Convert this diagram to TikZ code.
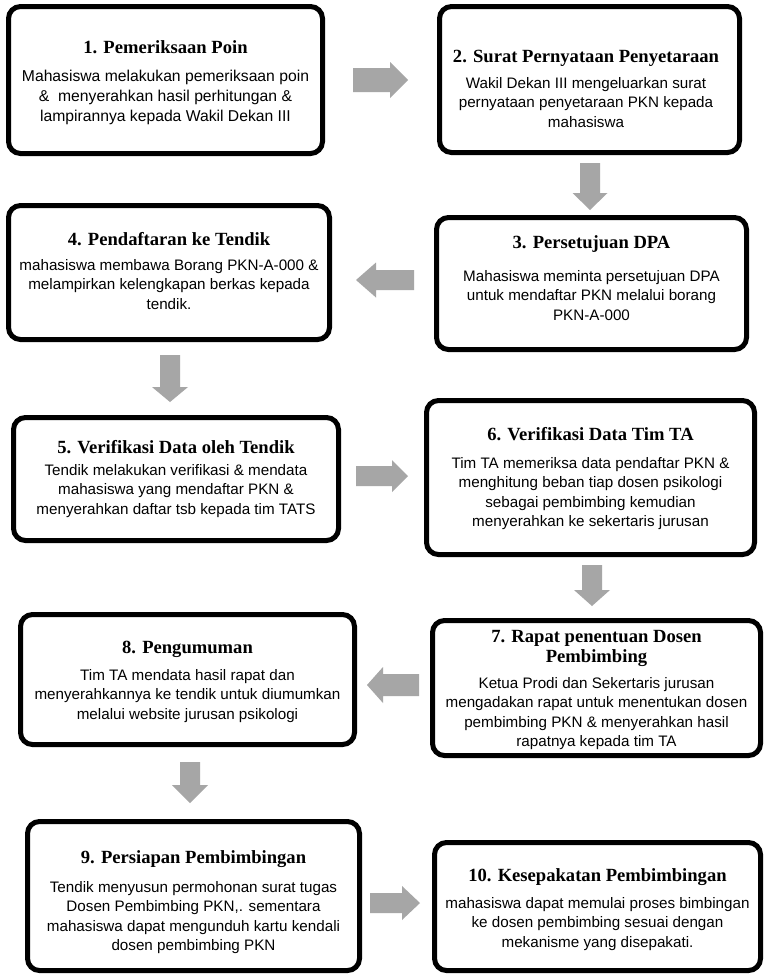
\documentclass[tikz,border=0pt]{standalone}
\usepackage{fontspec}
\setmainfont{Liberation Sans}
\newfontfamily\ttlfont{Liberation Serif}
\usetikzlibrary{fit}
\definecolor{arrowgray}{RGB}{166,166,166}
\newcommand{\blkH}[6]{\fill[garrow] (#1,#4-#5) -- (#2,#4-#5) -- (#2,#4-#6) -- (#3,#4) -- (#2,#4+#6) -- (#2,#4+#5) -- (#1,#4+#5) -- cycle;}
\newcommand{\blkV}[6]{\fill[garrow] (#1-#5,#2) -- (#1-#5,#3) -- (#1-#6,#3) -- (#1,#4) -- (#1+#6,#3) -- (#1+#5,#3) -- (#1+#5,#2) -- cycle;}
\tikzset{
  stepbox/.style={draw=black, line width=5pt, rounded corners=12pt, inner sep=0pt, fill=white},
  ttl/.style={font=\ttlfont\bfseries\fontsize{18.6}{20}\selectfont, anchor=base, inner sep=0pt, align=center},
  ttlm/.style={font=\ttlfont\bfseries\fontsize{18.6}{20}\selectfont, anchor=north, inner sep=0pt, align=center},
  bdy/.style={font=\fontsize{15.2}{19.5}\selectfont, anchor=north, inner sep=0pt, align=center},
  bdyl/.style={bdy, font=\fontsize{15.7}{20}\selectfont},
  garrow/.style={fill=arrowgray, draw=none}
}
\begin{document}
\begin{tikzpicture}[x=1pt,y=-1pt]
\useasboundingbox (0,0) rectangle (765,975);
\fill[white] (0,0) rectangle (765,975);

% boxes
\node[stepbox, fit={(8.5,6.5) (322.5,153.5)}] (b1) {};
\node[stepbox, fit={(439.5,6.5) (739.5,152.5)}] (b2) {};
\node[stepbox, fit={(436.5,217.5) (746.5,349.5)}] (b3) {};
\node[stepbox, fit={(8.5,205.5) (329.5,339.5)}] (b4) {};
\node[stepbox, fit={(13.5,417.5) (338.5,540.5)}] (b5) {};
\node[stepbox, fit={(426.5,400.5) (754.5,554.5)}] (b6) {};
\node[stepbox, fit={(432.5,620.5) (760.5,755.5)}] (b7) {};
\node[stepbox, fit={(20.5,614.5) (354.5,744.5)}] (b8) {};
\node[stepbox, fit={(27.5,821.5) (359.5,970.5)}] (b9) {};
\node[stepbox, fit={(434.5,842.5) (760.5,970.5)}] (b10) {};

% texts (body: north anchor = first baseline - ascent)
\node[ttl] (t1) at (165.5,53.5) {1. Pemeriksaan Poin};
\node[bdyl] (d1) at (165.5,69.7) {Mahasiswa melakukan pemeriksaan poin\\\&\ \ menyerahkan hasil perhitungan \&\\lampirannya kepada Wakil Dekan III};

\node[ttl] (t2) at (586,62.5) {2. Surat Pernyataan Penyetaraan};
\node[bdy] (d2) at (586,77.1) {Wakil Dekan III mengeluarkan surat\\pernyataan penyetaraan PKN kepada\\mahasiswa};

\node[ttl] (t3) at (591.5,248.5) {3. Persetujuan DPA};
\node[bdy] (d3) at (591.5,270.1) {Mahasiswa meminta persetujuan DPA\\untuk mendaftar PKN melalui borang\\PKN-A-000};

\node[ttl] (t4) at (169,245.5) {4. Pendaftaran ke Tendik};
\node[bdy] (d4) at (169,259.1) {mahasiswa membawa Borang PKN-A-000 \&\\melampirkan kelengkapan berkas kepada\\tendik.};

\node[ttl] (t5) at (176,453.5) {5. Verifikasi Data oleh Tendik};
\node[bdy] (d5) at (176,464.1) {Tendik melakukan verifikasi \& mendata\\mahasiswa yang mendaftar PKN \&\\menyerahkan daftar tsb kepada tim TATS};

\node[ttl] (t6) at (590.5,440.5) {6. Verifikasi Data Tim TA};
\node[bdy] (d6) at (590.5,457.1) {Tim TA memeriksa data pendaftar PKN \&\\menghitung beban tiap dosen psikologi\\sebagai pembimbing kemudian\\menyerahkan ke sekertaris jurusan};

\node[ttlm] (t7) at (596.5,630.1) {7. Rapat penentuan Dosen\\Pembimbing};
\node[bdy] (d7) at (596.5,677.1) {Ketua Prodi dan Sekertaris jurusan\\mengadakan rapat untuk menentukan dosen\\pembimbing PKN \& menyerahkan hasil\\rapatnya kepada tim TA};

\node[ttl] (t8) at (187.5,653.5) {8. Pengumuman};
\node[bdy] (d8) at (187.5,669.1) {Tim TA mendata hasil rapat dan\\menyerahkannya ke tendik untuk diumumkan\\melalui website jurusan psikologi};

\node[ttl] (t9) at (193.5,863.5) {9. Persiapan Pembimbingan};
\node[bdy] (d9) at (193.5,881.1) {Tendik menyusun permohonan surat tugas\\Dosen Pembimbing PKN,. sementara\\mahasiswa dapat mengunduh kartu kendali\\dosen pembimbing PKN};

\node[ttl] (t10) at (597.5,881.5) {10. Kesepakatan Pembimbingan};
\node[bdy] (d10) at (597.5,897.1) {mahasiswa dapat memulai proses bimbingan\\ke dosen pembimbing sesuai dengan\\mekanisme yang disepakati.};

% block arrows
\blkH{353}{390}{408}{80}{12}{18}
\blkV{590}{163}{193}{210}{10}{17.5}
\blkH{414}{376}{356}{280}{10}{17.5}
\blkV{170}{355}{387}{402}{10}{18}
\blkH{356}{392}{408}{476}{10}{16}
\blkV{592}{565}{590}{606}{10}{18}
\blkH{419}{383}{367}{685}{11}{18}
\blkV{190}{762}{785}{803}{10}{18}
\blkH{370}{402}{420}{903}{10}{17}
\end{tikzpicture}
\end{document}
